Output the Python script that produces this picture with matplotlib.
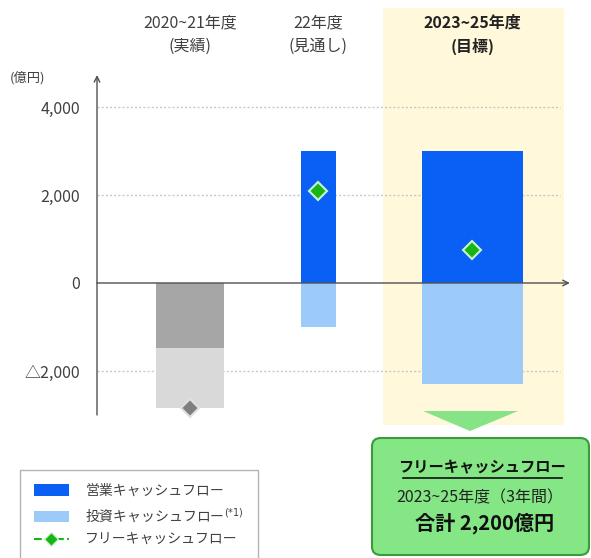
import matplotlib
matplotlib.use("Agg")
import matplotlib.pyplot as plt
from matplotlib.patches import Rectangle, Patch, FancyBboxPatch, Polygon
from matplotlib.lines import Line2D
import matplotlib.transforms as mtrans

plt.rcParams['font.family'] = ['Noto Sans CJK JP', 'DejaVu Sans']

# data
periods = ["2020~21年度", "22年度", "2023~25年度"]
period_notes = ["(実績)", "(見通し)", "(目標)"]
operating_cf = [-1480, 3000, 3000]
investing_cf = [-1360, -1000, -2300]
free_cf = [-2840, 2100, 750]
yticks = [-2000, 0, 2000, 4000]
ytick_labels = ["△2,000", "0", "2,000", "4,000"]

# layout
xpos = [0.0, 1.0, 2.2]
widths = [0.53, 0.27, 0.79]
op_colors = ["#a6a6a6", "#0a5ff5", "#0a5ff5"]
inv_colors = ["#d9d9d9", "#9ccbfa", "#9ccbfa"]
fcf_colors = ["#7f7f7f", "#18b418", "#18b418"]
fcf_edges = ["#e0e0e0", "#c8f5c8", "#c8f5c8"]

W, H = 591, 558
fig = plt.figure(figsize=(W / 100, H / 100), dpi=100)
# axes spans x 97..575 px, y 70..420 px
ax = fig.add_axes([97 / W, 1 - 420 / H, (575 - 97) / W, 350 / H])
ax.set_xlim(-0.724, 3.0)
ax.set_ylim(-3114, 4841)
for s in ax.spines.values():
    s.set_visible(False)

# highlight for target period
ax.add_patch(Rectangle((1.502, -3230), 1.416, 9480, facecolor="#fff8da",
                       edgecolor="none", zorder=0, clip_on=False))

for y in [-2000, 2000, 4000]:
    ax.plot([-0.724, 2.88], [y, y], color="#c8c8c8", lw=1,
            linestyle=(0, (1.5, 1.5)), zorder=1)

for i in range(3):
    ax.bar(xpos[i], operating_cf[i], width=widths[i], color=op_colors[i], zorder=2)
    if operating_cf[i] < 0:
        bottom = operating_cf[i]
    else:
        bottom = 0
    ax.bar(xpos[i], investing_cf[i], width=widths[i], bottom=bottom,
           color=inv_colors[i], zorder=2)
    ax.plot(xpos[i], free_cf[i], marker="D", markersize=9, color=fcf_colors[i],
            markeredgecolor=fcf_edges[i], markeredgewidth=1.5, zorder=4, clip_on=False)

# axes with arrows
ax.annotate("", xy=(-0.724, 4727), xytext=(-0.724, -3000),
            arrowprops=dict(arrowstyle="->", color="#505050", lw=1, shrinkA=0, shrinkB=0),
            annotation_clip=False)
ax.annotate("", xy=(2.96, 0), xytext=(-0.724, 0),
            arrowprops=dict(arrowstyle="->", color="#505050", lw=1, shrinkA=0, shrinkB=0),
            annotation_clip=False, zorder=3)

ax.set_xticks([])
ax.set_yticks(yticks)
ax.set_yticklabels(ytick_labels, fontsize=11.5, color="#404040")
ax.tick_params(axis="y", length=0, pad=12)

fig.text(10 / W, 1 - 78 / H, "(億円)", fontsize=9.5, color="#404040", va="center")

# column headers
trans = mtrans.blended_transform_factory(ax.transData, fig.transFigure)
for i in range(3):
    bold = "bold" if i == 2 else "normal"
    c = "#222222" if i == 2 else "#404040"
    ax.text(xpos[i], 1 - 23 / H, periods[i], transform=trans, ha="center",
            va="center", fontsize=11.5, fontweight=bold, color=c)
    ax.text(xpos[i], 1 - 46 / H, period_notes[i], transform=trans, ha="center",
            va="center", fontsize=11.5, fontweight=bold, color=c)

# arrow triangle and summary box
fig.patches.append(Polygon([(423 / W, 1 - 411 / H), (518 / W, 1 - 411 / H),
                            (470 / W, 1 - 431 / H)], closed=True,
                           transform=fig.transFigure, facecolor="#86e486",
                           edgecolor="none"))
fig.patches.append(FancyBboxPatch((372 / W, 1 - 555 / H), 217 / W, 117 / H,
                                  boxstyle="round,pad=0,rounding_size=0.015",
                                  transform=fig.transFigure, facecolor="#84e684",
                                  edgecolor="#3c9a3c", lw=1.5))
fig.text(482 / W, 1 - 467 / H, "フリーキャッシュフロー", fontsize=11, fontweight="bold",
         ha="center", va="center", color="#111111")
fig.add_artist(Line2D([403 / W, 562 / W], [1 - 478 / H, 1 - 478 / H],
                      color="#111111", lw=1.2))
fig.text(480 / W, 1 - 498 / H, "2023~25年度（3年間）", fontsize=11.5,
         ha="center", va="center", color="#222222")
fig.text(485 / W, 1 - 523 / H, "合計 2,200億円", fontsize=14.5, fontweight="bold",
         ha="center", va="center", color="#111111")

# legend
handles = [Patch(facecolor="#0a5ff5", edgecolor="none"),
           Patch(facecolor="#9ccbfa", edgecolor="none"),
           Line2D([], [], color="#18b418", linestyle="--", lw=1.5, marker="D",
                  markersize=7, markeredgecolor="#c8f5c8")]
labels = ["営業キャッシュフロー", "投資キャッシュフロー$^{(*1)}$", "フリーキャッシュフロー"]
leg = fig.legend(handles, labels, loc="upper left",
                 bbox_to_anchor=(20 / W, 1 - 470 / H), fontsize=10,
                 frameon=True, fancybox=False, edgecolor="#a0a0a0",
                 handlelength=2.5, handleheight=0.9, labelspacing=0.6,
                 borderpad=1.0, handletextpad=1.2, borderaxespad=0)
leg._legend_box.sep = 0
for t in leg.get_texts():
    t.set_color("#404040")
leg.get_frame().set_width(1)

fig.savefig("out.png", dpi=100)
